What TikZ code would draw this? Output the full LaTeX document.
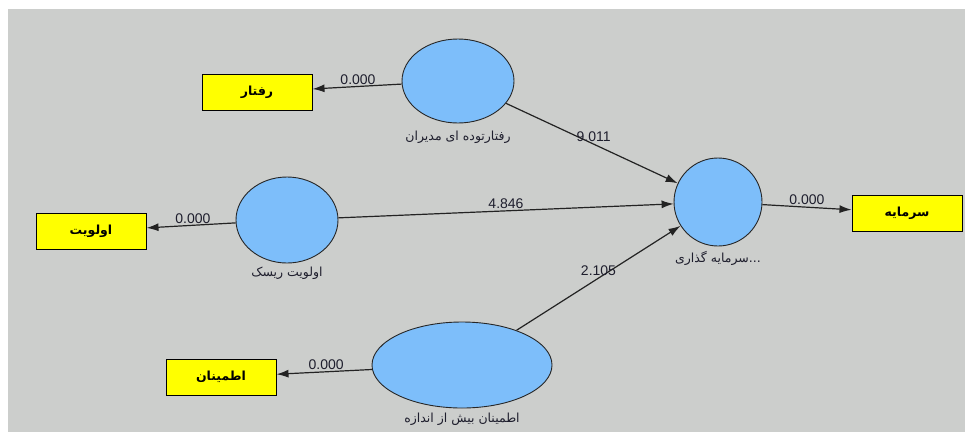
\documentclass[tikz,border=0pt]{standalone}
\usepackage{fontspec}
\setmainfont{Liberation Sans}
\newfontfamily\arabicfont[Script=Arabic]{DejaVu Sans}
\TeXXeTstate=1
\usetikzlibrary{arrows.meta,shapes.geometric}
\pgfdeclarelayer{back}
\pgfdeclarelayer{edges}
\pgfsetlayers{back,edges,main}
\definecolor{bggray}{RGB}{204,206,204}
\definecolor{lvblue}{RGB}{125,190,250}
\definecolor{mvyellow}{RGB}{255,255,0}
\definecolor{linecol}{RGB}{35,35,35}
\definecolor{txtcol}{RGB}{30,30,45}
\begin{document}
\begin{tikzpicture}[x=1pt,y=-1pt,
  latent/.style={ellipse,draw=black!85,line width=0.9pt,fill=lvblue,inner sep=0pt},
  indicator/.style={rectangle,draw=black,line width=1pt,fill=mvyellow,minimum width=110pt,minimum height=36pt,inner sep=0pt,font=\arabicfont\bfseries\fontsize{12.5}{14}\selectfont},
  latlabel/.style={font=\arabicfont\fontsize{12.5}{14}\selectfont,text=txtcol,inner sep=0pt},
  pathedge/.style={draw=linecol,line width=1.2pt,-{Latex[length=12pt,width=8pt]}},
  coef/.style={font=\fontsize{14}{16}\selectfont,text=txtcol,inner sep=1.5pt}
]
\useasboundingbox (0,0) rectangle (965,432);
\begin{pgfonlayer}{back}
  \fill[white] (0,0) rectangle (965,432);
  \fill[bggray] (8,9) rectangle (965,432);
\end{pgfonlayer}

% latent variables
\node[latent,minimum width=112pt,minimum height=84pt] (e1) at (458,81) {};
\node[latent,minimum width=102pt,minimum height=86pt] (e2) at (287,220) {};
\node[latent,minimum width=180pt,minimum height=86pt] (e3) at (462,365) {};
\node[latent,minimum width=88pt,minimum height=88pt] (c) at (718,202) {};

% latent labels
\node[latlabel] (l1) at (458,137) {\beginR رفتارتوده ای مدیران\endR};
\node[latlabel] (l2) at (287,273) {\beginR اولویت ریسک\endR};
\node[latlabel] (l3) at (462,419) {\beginR اطمینان بیش از اندازه\endR};
\node[latlabel] (l4) at (718,258) {\beginR ...سرمایه گذاری\endR};

% indicators
\node[indicator] (r1) at (257,92) {\beginR رفتار\endR};
\node[indicator] (r2) at (91,231) {\beginR اولویت\endR};
\node[indicator] (r3) at (221,377) {\beginR اطمینان\endR};
\node[indicator] (r4) at (907,213) {\beginR سرمایه\endR};

\begin{pgfonlayer}{edges}
  \draw[pathedge] (e1) -- node[coef,pos=0.49,above]{0.000} (r1);
  \draw[pathedge] (e2) -- node[coef,pos=0.48,above]{0.000} (r2);
  \draw[pathedge] (e3) -- node[coef,pos=0.48,above]{0.000} (r3);
  \draw[pathedge] (c) -- node[coef,pos=0.5,above]{0.000} (r4);
  \draw[pathedge] (e1) -- node[coef,pos=0.51,above]{9.011} (c);
  \draw[pathedge] (e2) -- node[coef,pos=0.5,above]{4.846} (c);
  \draw[pathedge] (e3) -- node[coef,pos=0.5,above]{2.105} (c);
\end{pgfonlayer}
\end{tikzpicture}
\end{document}
